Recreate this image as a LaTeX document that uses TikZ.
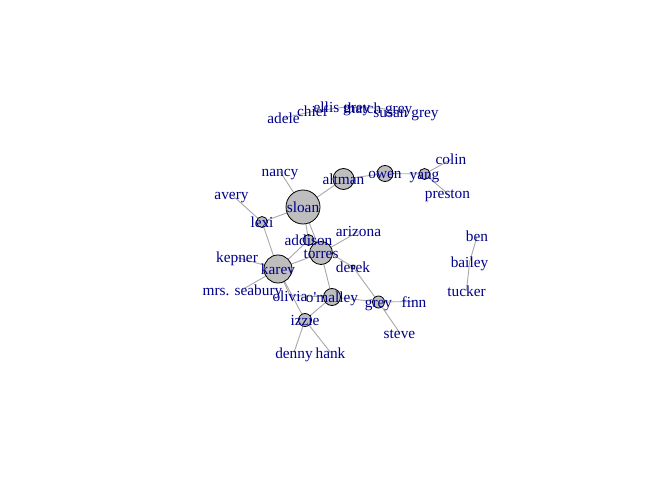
\documentclass[tikz,border=0pt]{standalone}
\usepackage{fontspec}
\setmainfont{Liberation Serif}
\definecolor{edgegray}{HTML}{A8A8A8}
\definecolor{vfill}{HTML}{BEBEBE}
\definecolor{lblblue}{HTML}{00008B}
\begin{document}
\begin{tikzpicture}[x=1bp,y=-1bp,
  edge/.style={draw=edgegray,line width=0.9bp},
  vtx/.style={circle,draw=black,fill=vfill,line width=0.8bp,inner sep=0pt},
  lbl/.style={text=lblblue,font=\fontsize{15.4}{18}\selectfont,inner sep=0pt,anchor=base,yshift=-5.5bp}]
\useasboundingbox (0,0) rectangle (672,480);
% vertex positions
\coordinate (adele) at (283.5,118);
\coordinate (chief) at (312.5,111.5);
\coordinate (ellisgrey) at (342,107.5);
\coordinate (thatchgrey) at (378,108);
\coordinate (susangrey) at (406,112);
\coordinate (nancy) at (280,171.5);
\coordinate (avery) at (231.5,194.5);
\coordinate (sloan) at (303,207);
\coordinate (altman) at (343.5,179);
\coordinate (owen) at (385,173.5);
\coordinate (yang) at (424.5,174);
\coordinate (colin) at (451,159.5);
\coordinate (preston) at (447.5,193.5);
\coordinate (lexi) at (262,222);
\coordinate (addison) at (308.5,240);
\coordinate (torres) at (321,253);
\coordinate (arizona) at (358.5,231.5);
\coordinate (kepner) at (237,257.5);
\coordinate (karev) at (278,269);
\coordinate (mrsseabury) at (242.5,289.5);
\coordinate (olivia) at (290,295.5);
\coordinate (omalley) at (332,297);
\coordinate (derek) at (353,267);
\coordinate (grey) at (378.5,302);
\coordinate (finn) at (414,301.5);
\coordinate (steve) at (399.5,332.5);
\coordinate (izzie) at (305,320);
\coordinate (denny) at (294,352.5);
\coordinate (hank) at (330.5,352.5);
\coordinate (ben) at (477,236.5);
\coordinate (bailey) at (469.5,262.5);
\coordinate (tucker) at (466.5,290.5);
% edges
\foreach \a/\b in {adele/chief,chief/ellisgrey,ellisgrey/thatchgrey,thatchgrey/susangrey,
  nancy/sloan,avery/lexi,lexi/sloan,lexi/karev,sloan/altman,altman/owen,owen/yang,
  yang/colin,yang/preston,sloan/addison,sloan/torres,torres/arizona,karev/addison,
  karev/torres,karev/kepner,karev/mrsseabury,karev/izzie,karev/olivia,olivia/omalley,
  torres/omalley,omalley/izzie,omalley/grey,addison/derek,derek/grey,grey/finn,
  grey/steve,izzie/denny,izzie/hank,ben/bailey,bailey/tucker}
  \draw[edge] (\a) -- (\b);
% vertices
\node[vtx,minimum size=34bp] (vsloan) at (sloan) {};
\node[vtx,minimum size=28bp] (vkarev) at (karev) {};
\node[vtx,minimum size=23bp] (vtorres) at (torres) {};
\node[vtx,minimum size=21bp] (valtman) at (altman) {};
\node[vtx,minimum size=17bp] (vomalley) at (omalley) {};
\node[vtx,minimum size=16bp] (vowen) at (owen) {};
\node[vtx,minimum size=13bp] (vizzie) at (izzie) {};
\node[vtx,minimum size=12bp] (vgrey) at (grey) {};
\node[vtx,minimum size=11bp] (vlexi) at (lexi) {};
\node[vtx,minimum size=11bp] (vaddison) at (addison) {};
\node[vtx,minimum size=11bp] (vyang) at (yang) {};
\node[vtx,minimum size=4bp] (vderek) at (derek) {};
% labels
\node[lbl] (ladele) at (adele) {adele};
\node[lbl] (lchief) at (chief) {chief};
\node[lbl] (lellis) at (ellisgrey) {ellis grey};
\node[lbl] (lthatch) at (thatchgrey) {thatch grey};
\node[lbl] (lsusan) at (susangrey) {susan grey};
\node[lbl] (lnancy) at (nancy) {nancy};
\node[lbl] (lavery) at (avery) {avery};
\node[lbl] (lsloan) at (sloan) {sloan};
\node[lbl] (laltman) at (altman) {altman};
\node[lbl] (lowen) at (owen) {owen};
\node[lbl] (lyang) at (yang) {yang};
\node[lbl] (lcolin) at (colin) {colin};
\node[lbl] (lpreston) at (preston) {preston};
\node[lbl] (llexi) at (lexi) {lexi};
\node[lbl] (laddison) at (addison) {addison};
\node[lbl] (ltorres) at (torres) {torres};
\node[lbl] (larizona) at (arizona) {arizona};
\node[lbl] (lkepner) at (kepner) {kepner};
\node[lbl] (lkarev) at (karev) {karev};
\node[lbl] (lmrs) at (mrsseabury) {mrs. seabury};
\node[lbl] (lolivia) at (olivia) {olivia};
\node[lbl] (lomalley) at (omalley) {o\textquotesingle malley};
\node[lbl] (lderek) at (derek) {derek};
\node[lbl] (lgrey) at (grey) {grey};
\node[lbl] (lfinn) at (finn) {finn};
\node[lbl] (lsteve) at (steve) {steve};
\node[lbl] (lizzie) at (izzie) {izzie};
\node[lbl] (ldenny) at (denny) {denny};
\node[lbl] (lhank) at (hank) {hank};
\node[lbl] (lben) at (ben) {ben};
\node[lbl] (lbailey) at (bailey) {bailey};
\node[lbl] (ltucker) at (tucker) {tucker};
\end{tikzpicture}
\end{document}
